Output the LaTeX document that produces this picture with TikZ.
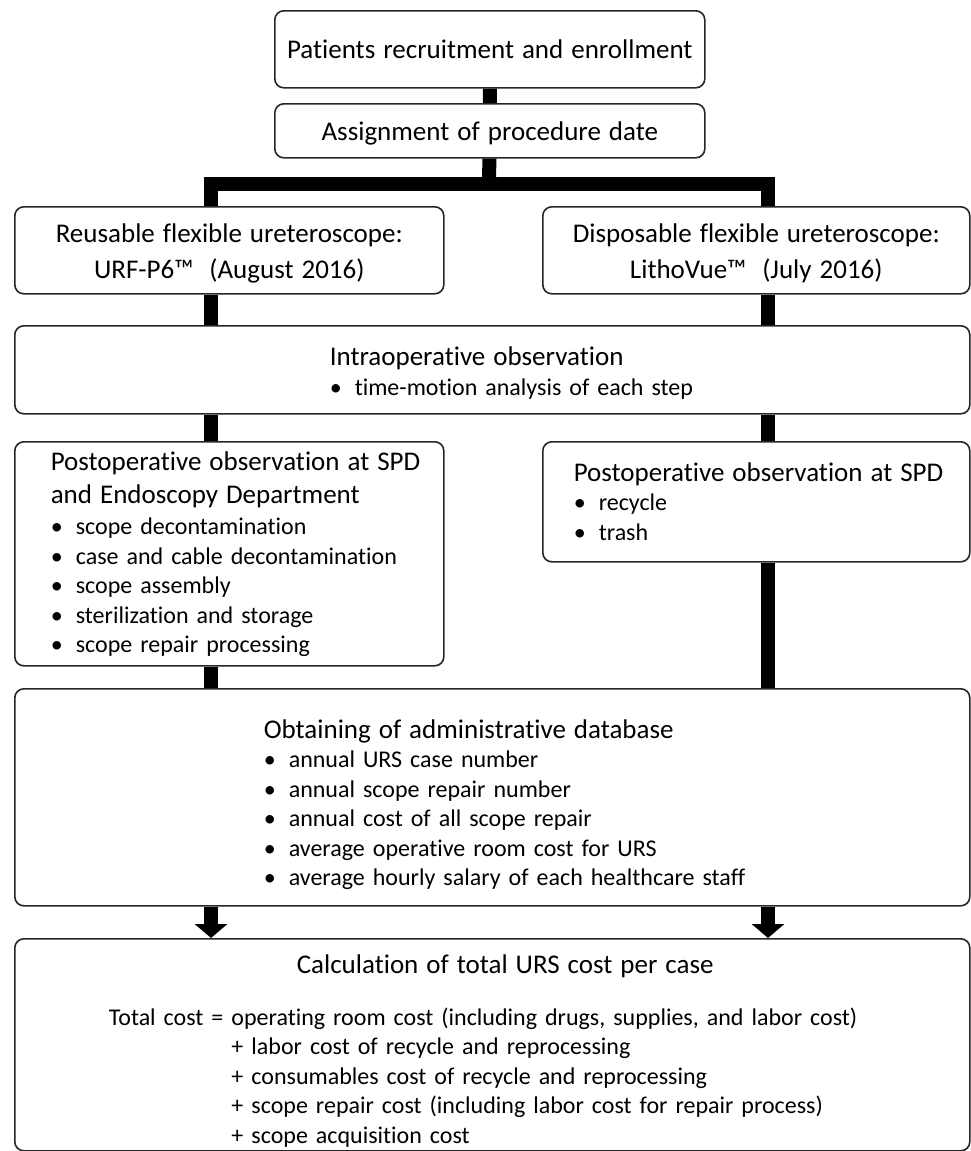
\documentclass[tikz,border=0pt]{standalone}
\usepackage{fontspec}
\setmainfont{Carlito}[Ligatures=NoCommon]
\usetikzlibrary{arrows.meta}

\newcommand{\itm}[1]{\makebox[25pt][l]{\textbullet}#1}
\newcommand{\hd}[1]{{\fontsize{27}{29.5}\selectfont #1}}

\begin{document}
\begin{tikzpicture}[x=1pt,y=-1pt,>={Triangle[width=32pt,length=14pt]},
    box/.style={draw=black!85,line width=1.6pt,rounded corners=9pt,fill=white,anchor=north west,inner sep=0pt,font=\fontsize{24}{29.5}\selectfont},
    link/.style={line width=14pt,line join=miter}]
    \useasboundingbox (0,0) rectangle (971,1151);

    \node[box,minimum width=430pt,minimum height=77pt,text width=430pt,align=center] (enroll) at (274,10) {\hd{Patients recruitment and enrollment}\vspace*{-16pt}};
    \node[box,minimum width=430pt,minimum height=54pt,text width=430pt,align=center] (assign) at (274,103) {\hd{Assignment of procedure date}\vspace*{-14pt}};
    \node[box,minimum width=429pt,minimum height=87pt,text width=429pt,align=center] (reuse) at (14,206) {\hd{Reusable flexible ureteroscope:}\\[7pt]\hd{URF-P6™~ (August 2016)}\vspace*{-6pt}};
    \node[box,minimum width=427pt,minimum height=87pt,text width=427pt,align=center] (dispo) at (542,206) {\hd{Disposable flexible ureteroscope:}\\[7pt]\hd{LithoVue™~ (July 2016)}\vspace*{-6pt}};
    \node[box,minimum width=955pt,minimum height=88pt,text width=955pt,align=left] (intra) at (14,325)
        {\hspace*{315pt}\begin{tabular}{@{}l@{}}\hd{Intraoperative observation}\\\itm{time-motion analysis of each step}\end{tabular}\vspace*{-10pt}};
    \node[box,minimum width=429pt,minimum height=224pt,text width=429pt,align=left] (postL) at (14,441)
        {\hspace*{36pt}\begin{tabular}{@{}l@{}}\hd{Postoperative observation at SPD}\\[3pt]\hd{and Endoscopy Department}\\[2pt]
        \itm{scope decontamination}\\\itm{case and cable decontamination}\\\itm{scope assembly}\\
        \itm{sterilization and storage}\\\itm{scope repair processing}\end{tabular}\vspace*{-4pt}};
    \node[box,minimum width=427pt,minimum height=120pt,text width=427pt,align=left] (postR) at (542,441)
        {\hspace*{31pt}\begin{tabular}{@{}l@{}}\hd{Postoperative observation at SPD}\\\itm{recycle}\\\itm{trash}\end{tabular}\vspace*{-6pt}};
    \node[box,minimum width=955pt,minimum height=217pt,text width=955pt,align=left] (admin) at (14,688)
        {\hspace*{249pt}\begin{tabular}{@{}l@{}}\hd{Obtaining of administrative database}\\
        \itm{annual URS case number}\\\itm{annual scope repair number}\\\itm{annual cost of all scope repair}\\
        \itm{average operative room cost for URS}\\\itm{average hourly salary of each healthcare staff}\end{tabular}\vspace*{-18pt}};
    \node[box,minimum width=955pt,minimum height=212pt,text width=955pt,align=left] (calc) at (14,938)
        {\hspace*{94pt}\begin{tabular}{@{}l@{}}\hspace*{188pt}\hd{Calculation of total URS cost per case}\\[22pt]
        Total cost = operating room cost (including drugs, supplies, and labor cost)\\
        \hphantom{Total cost =} + labor cost of recycle and reprocessing\\
        \hphantom{Total cost =} + consumables cost of recycle and reprocessing\\
        \hphantom{Total cost =} + scope repair cost (including labor cost for repair process)\\
        \hphantom{Total cost =} + scope acquisition cost\end{tabular}\vspace*{-16pt}};

    \coordinate (fork) at (489,184);
    \coordinate (lft) at (211,0);
    \coordinate (rgt) at (768,0);

    \draw[link] (enroll) -- (assign) -- (fork);
    \draw[link] (reuse.north -| lft) |- (fork) -| (dispo.north -| rgt);
    \path[link]
        (reuse.south -| lft) edge (intra.north -| lft)
        (dispo.south -| rgt) edge (intra.north -| rgt)
        (intra.south -| lft) edge (postL.north -| lft)
        (intra.south -| rgt) edge (postR.north -| rgt)
        (postL.south -| lft) edge (admin.north -| lft)
        (postR.south -| rgt) edge (admin.north -| rgt)
        (admin.south -| lft) edge[->] (calc.north -| lft)
        (admin.south -| rgt) edge[->] (calc.north -| rgt);
\end{tikzpicture}
\end{document}
